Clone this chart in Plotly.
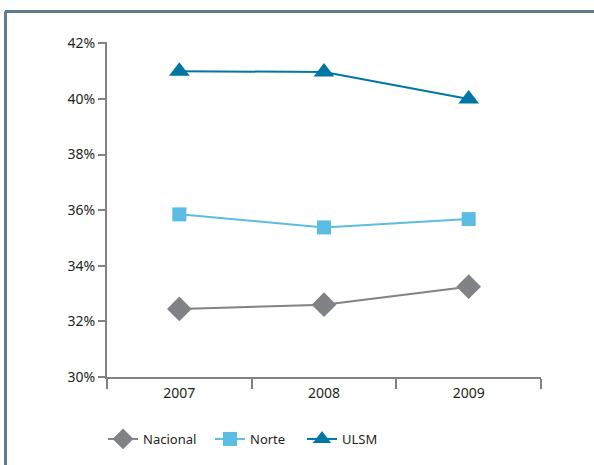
import plotly.graph_objects as go

years = ["2007", "2008", "2009"]
nacional = [32.45, 32.6, 33.25]
norte = [35.85, 35.38, 35.68]
ulsm = [41.0, 40.97, 40.0]
ytick_vals = [30, 32, 34, 36, 38, 40, 42]
ytick_text = ["30%", "32%", "34%", "36%", "38%", "40%", "42%"]

W, H = 594, 465
L, R, T, B = 107, 53, 42, 87
pw, ph = W - L - R, H - T - B

def px_x(p):
    return (p - L) / pw

def px_y(p):
    return (H - B - p) / ph

fig = go.Figure()
fig.add_trace(go.Scatter(x=years, y=nacional, name="Nacional", mode="lines+markers",
                         line=dict(color="#808285", width=2), legend="legend",
                         marker=dict(symbol="diamond", size=19, color="#808285")))
fig.add_trace(go.Scatter(x=years, y=norte, name="Norte", mode="lines+markers",
                         line=dict(color="#5bbde4", width=2), legend="legend2",
                         marker=dict(symbol="square", size=14, color="#5bbde4")))
fig.add_trace(go.Scatter(x=years, y=ulsm, name="ULSM", mode="lines+markers",
                         line=dict(color="#0077a3", width=2), legend="legend3",
                         marker=dict(symbol="triangle-up", size=18, color="#0077a3")))

frame_color = "#5f7b91"
fig.add_shape(type="line", xref="paper", yref="paper",
              x0=px_x(5), x1=px_x(600), y0=px_y(11.5), y1=px_y(11.5),
              line=dict(color=frame_color, width=3))
fig.add_shape(type="line", xref="paper", yref="paper",
              x0=px_x(5.5), x1=px_x(5.5), y0=px_y(11.5), y1=px_y(470),
              line=dict(color=frame_color, width=3))

def leg(xpix):
    return dict(orientation="h", x=px_x(xpix), xanchor="left", y=px_y(439), yanchor="middle",
                font=dict(family="Noto Sans", size=13, color="#231f20"), itemsizing="trace",
                bgcolor="rgba(0,0,0,0)")

fig.update_layout(
    width=W, height=H,
    margin=dict(l=L, r=R, t=T, b=B),
    paper_bgcolor="white", plot_bgcolor="white",
    font=dict(family="Noto Sans", size=14, color="#231f20"),
    showlegend=True,
    legend=leg(103), legend2=leg(210), legend3=leg(302),
    xaxis=dict(type="category", range=[-0.5, 2.5], tickson="boundaries",
               ticks="outside", ticklen=10, tickwidth=2, tickcolor="#808285",
               showline=True, linecolor="#808285", linewidth=2,
               showgrid=False, zeroline=False, tickfont=dict(size=14),
               ticklabelstandoff=2),
    yaxis=dict(range=[30, 42.05], tickvals=ytick_vals, ticktext=ytick_text,
               ticks="outside", ticklen=7, tickwidth=2, tickcolor="#808285",
               showline=True, linecolor="#808285", linewidth=2,
               showgrid=False, zeroline=False, tickfont=dict(size=14)),
)

fig.write_html("out.html")
